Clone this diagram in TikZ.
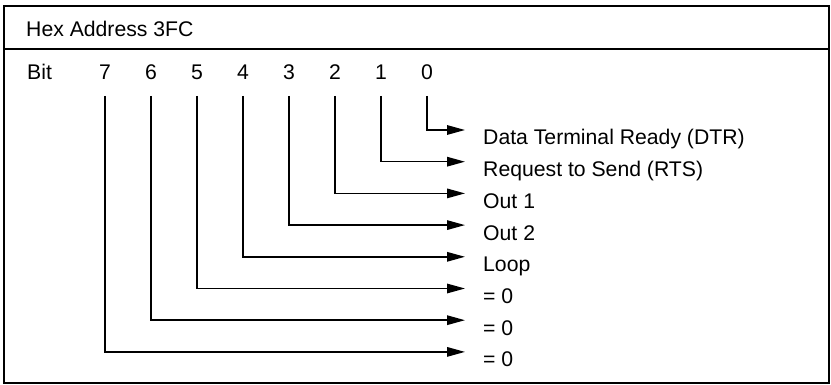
\documentclass[tikz,border=0pt]{standalone}
\usepackage{fontspec}
\setmainfont{Liberation Sans}
\usetikzlibrary{arrows.meta,positioning}

\tikzset{
  regtext/.style={inner sep=0pt,font=\fontsize{21.2}{25}\selectfont},
  bitline/.style={line width=1.5pt,-{Triangle[length=18pt,width=9.5pt]}},
}

\begin{document}
\begin{tikzpicture}[x=1pt,y=-1pt]
  \useasboundingbox (0,0) rectangle (831,385);
  % Frame and title row
  \draw[line width=1.6pt] (4,6) rectangle (829,383);
  \draw[line width=1.4pt] (4,49) -- (829,49);
  \node[regtext,anchor=base west] (title) at (26,37) {Hex Address 3FC};
  % Bit numbers
  \node[regtext,anchor=base west] (bit) at (27,80) {Bit};
  \foreach \i in {0,...,7}
    \node[regtext,anchor=base] (b\i) at ({105+(7-\i)*46},80) {\i};
  % Arrows to the register fields
  \foreach \i/\lab in {0/{Data Terminal Ready (DTR)},1/{Request to Send (RTS)},
                       2/{Out 1},3/{Out 2},4/{Loop},5/{= 0},6/{= 0},7/{= 0}} {
    \coordinate (t\i) at (465,{130+\i*31.7});
    \node[regtext,anchor=base west] (l\i) at (483,{145+\i*31.7}) {\lab};
    \draw[bitline] ([yshift=-16pt]b\i.base) |- (t\i);
  }
\end{tikzpicture}
\end{document}
